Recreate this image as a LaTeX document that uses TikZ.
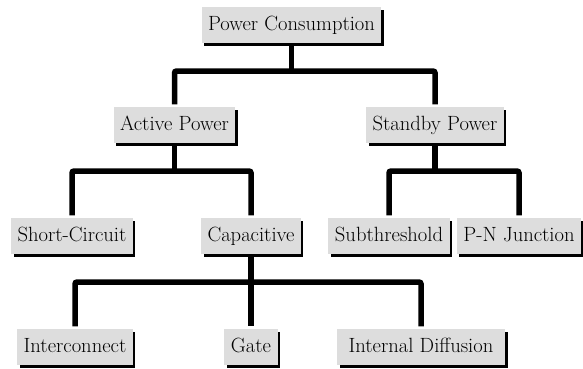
\documentclass[tikz,border=0pt]{standalone}
\usepackage{fontspec}
\usepackage{tikz}
\usetikzlibrary{shadows}

\definecolor{boxgray}{RGB}{221,221,221}

\begin{document}
\begin{tikzpicture}[x=1pt,y=-1pt,line width=5.5pt,rounded corners=2pt]
  \tikzstyle{block}=[fill=boxgray,rounded corners=0pt,inner xsep=6.5pt,inner ysep=8pt,
                     text height=15pt,text depth=5pt,text=black,
                     font=\fontsize{20.6}{24}\selectfont,
                     drop shadow={shadow xshift=2.5pt,shadow yshift=-2.5pt,fill=black,opacity=1}]
  \useasboundingbox (0,0) rectangle (583,368);

  \node[block] (pc)   at (291.5,25)  {Power Consumption};
  \node[block] (ap)   at (174.5,125) {Active Power};
  \node[block] (sp)   at (435,125)   {Standby Power};
  \node[block] (sc)   at (72,236)    {Short-Circuit};
  \node[block] (cap)  at (251,236)   {Capacitive};
  \node[block] (sub)  at (389,236)   {Subthreshold};
  \node[block] (pn)   at (519,236)   {P-N Junction};
  \node[block] (ic)   at (75,347)    {Interconnect};
  \node[block] (gate) at (251,347)   {Gate};
  \node[block, minimum width=168pt] (idf) at (421,347) {Internal Diffusion};

  \coordinate (b1) at (0,71);
  \coordinate (b2) at (0,171);
  \coordinate (b3) at (0,282);

  % level 1
  \draw (ap.north) |- (b1 -| pc) -| (sp.north);
  \draw (pc.south) -- (b1 -| pc);
  % level 2
  \draw (sc.north) |- (b2 -| ap) -| (cap.north);
  \draw (ap.south) -- (b2 -| ap);
  \draw (sub.north) |- (b2 -| sp) -| (pn.north);
  \draw (sp.south) -- (b2 -| sp);
  % level 3
  \draw (ic.north) |- (b3 -| cap) -| (idf.north);
  \draw (cap.south) -- (gate.north);
\end{tikzpicture}
\end{document}
